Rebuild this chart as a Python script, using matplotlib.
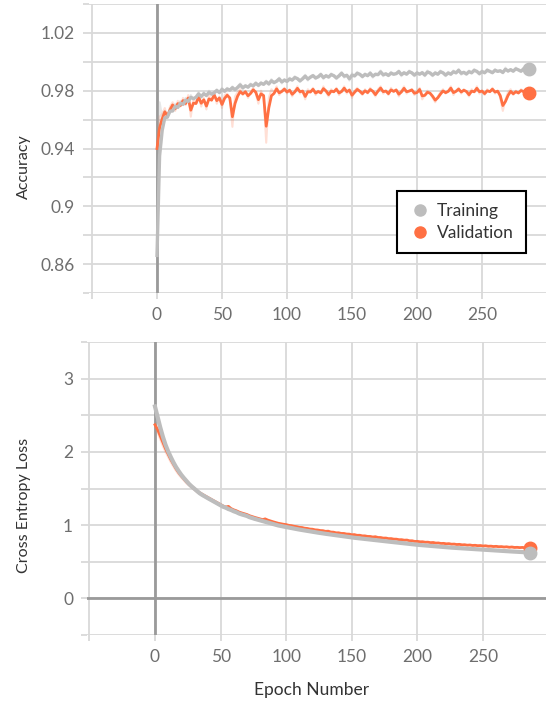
import matplotlib.pyplot as plt
import numpy as np
from matplotlib.lines import Line2D

plt.rcParams['font.family'] = ['Lato', 'DejaVu Sans']

# epochs (logged every 2 epochs)
epochs = np.arange(0, 287, 2)

train_acc = [
    0.866, 0.972, 0.962, 0.966, 0.962, 0.968, 0.966, 0.971, 0.968, 0.973,
    0.970, 0.975, 0.972, 0.977, 0.974, 0.976, 0.979, 0.975, 0.979, 0.976,
    0.980, 0.977, 0.979, 0.981, 0.978, 0.982, 0.979, 0.982, 0.980, 0.983,
    0.980, 0.983, 0.985, 0.981, 0.984, 0.982, 0.985, 0.983, 0.986, 0.983,
    0.986, 0.984, 0.987, 0.984, 0.988, 0.985, 0.987, 0.989, 0.985, 0.988,
    0.986, 0.989, 0.987, 0.990, 0.988, 0.986, 0.989, 0.991, 0.987, 0.990,
    0.991, 0.988, 0.990, 0.992, 0.988, 0.991, 0.989, 0.992, 0.990, 0.988,
    0.991, 0.993, 0.989, 0.991, 0.987, 0.992, 0.990, 0.993, 0.991, 0.989,
    0.992, 0.990, 0.993, 0.989, 0.992, 0.991, 0.994, 0.990, 0.992, 0.990,
    0.993, 0.991, 0.992, 0.994, 0.990, 0.993, 0.991, 0.994, 0.992, 0.990,
    0.993, 0.991, 0.993, 0.990, 0.994, 0.992, 0.990, 0.993, 0.991, 0.994,
    0.992, 0.990, 0.993, 0.991, 0.994, 0.992, 0.995, 0.991, 0.993, 0.991,
    0.994, 0.992, 0.995, 0.993, 0.991, 0.994, 0.992, 0.995, 0.993, 0.992,
    0.995, 0.993, 0.994, 0.992, 0.996, 0.993, 0.995, 0.993, 0.996, 0.994,
    0.993, 0.996, 0.994, 0.995,
]
val_acc = [
    0.940, 0.962, 0.964, 0.968, 0.961, 0.969, 0.972, 0.966, 0.973, 0.969,
    0.975, 0.970, 0.977, 0.962, 0.974, 0.971, 0.978, 0.969, 0.975, 0.967,
    0.977, 0.973, 0.979, 0.971, 0.976, 0.968, 0.977, 0.978, 0.974, 0.955,
    0.976, 0.979, 0.981, 0.977, 0.980, 0.975, 0.979, 0.982, 0.978, 0.971,
    0.980, 0.976, 0.944, 0.975, 0.981, 0.979, 0.983, 0.977, 0.980, 0.982,
    0.978, 0.981, 0.976, 0.980, 0.983, 0.978, 0.980, 0.974, 0.981, 0.979,
    0.982, 0.977, 0.980, 0.978, 0.983, 0.979, 0.976, 0.981, 0.979, 0.982,
    0.977, 0.980, 0.983, 0.978, 0.981, 0.975, 0.980, 0.982, 0.979, 0.977,
    0.981, 0.978, 0.982, 0.979, 0.976, 0.981, 0.983, 0.978, 0.980, 0.977,
    0.982, 0.979, 0.981, 0.976, 0.980, 0.983, 0.978, 0.980, 0.981, 0.977,
    0.979, 0.982, 0.974, 0.977, 0.980, 0.978, 0.975, 0.972, 0.976, 0.979,
    0.981, 0.978, 0.980, 0.983, 0.977, 0.980, 0.982, 0.978, 0.981, 0.979,
    0.976, 0.981, 0.979, 0.983, 0.978, 0.980, 0.977, 0.981, 0.979, 0.982,
    0.978, 0.980, 0.975, 0.966, 0.974, 0.979, 0.981, 0.977, 0.980, 0.978,
    0.981, 0.979, 0.977, 0.979,
]
train_loss = [
    2.62, 2.40, 2.26, 2.14, 2.04, 1.96, 1.89, 1.82, 1.76, 1.71,
    1.66, 1.62, 1.58, 1.54, 1.51, 1.48, 1.45, 1.42, 1.40, 1.38,
    1.36, 1.34, 1.32, 1.30, 1.28, 1.26, 1.24, 1.23, 1.21, 1.20,
    1.18, 1.17, 1.15, 1.14, 1.13, 1.12, 1.10, 1.09, 1.08, 1.07,
    1.06, 1.05, 1.04, 1.03, 1.02, 1.01, 1.00, 0.99, 0.985, 0.977,
    0.970, 0.963, 0.956, 0.949, 0.942, 0.936, 0.930, 0.924, 0.918, 0.912,
    0.906, 0.900, 0.895, 0.889, 0.884, 0.879, 0.874, 0.869, 0.864, 0.859,
    0.854, 0.849, 0.844, 0.839, 0.834, 0.829, 0.825, 0.821, 0.817, 0.813,
    0.809, 0.805, 0.801, 0.797, 0.793, 0.789, 0.785, 0.781, 0.777, 0.773,
    0.769, 0.765, 0.761, 0.757, 0.753, 0.749, 0.745, 0.741, 0.737, 0.733,
    0.730, 0.727, 0.724, 0.721, 0.718, 0.715, 0.712, 0.709, 0.706, 0.703,
    0.700, 0.697, 0.694, 0.691, 0.689, 0.686, 0.684, 0.681, 0.679, 0.676,
    0.674, 0.671, 0.669, 0.667, 0.665, 0.662, 0.660, 0.658, 0.656, 0.654,
    0.651, 0.649, 0.647, 0.645, 0.643, 0.641, 0.639, 0.637, 0.635, 0.633,
    0.631, 0.629, 0.627, 0.625,
]
val_loss = [
    2.37, 2.27, 2.17, 2.08, 2.00, 1.93, 1.86, 1.80, 1.74, 1.69,
    1.65, 1.61, 1.57, 1.54, 1.51, 1.48, 1.45, 1.43, 1.41, 1.39,
    1.37, 1.35, 1.33, 1.31, 1.29, 1.27, 1.25, 1.24, 1.26, 1.21,
    1.20, 1.19, 1.17, 1.16, 1.15, 1.14, 1.12, 1.11, 1.10, 1.09,
    1.08, 1.07, 1.09, 1.06, 1.05, 1.04, 1.03, 1.02, 1.015, 1.008,
    1.004, 0.992, 0.990, 0.980, 0.976, 0.965, 0.966, 0.953, 0.953, 0.942,
    0.943, 0.931, 0.932, 0.922, 0.923, 0.910, 0.919, 0.899, 0.903, 0.890,
    0.895, 0.882, 0.886, 0.874, 0.877, 0.864, 0.871, 0.856, 0.862, 0.849,
    0.853, 0.842, 0.845, 0.834, 0.843, 0.826, 0.830, 0.819, 0.824, 0.811,
    0.816, 0.805, 0.808, 0.797, 0.801, 0.791, 0.797, 0.781, 0.786, 0.773,
    0.779, 0.769, 0.773, 0.763, 0.768, 0.757, 0.764, 0.751, 0.757, 0.746,
    0.752, 0.741, 0.748, 0.736, 0.742, 0.732, 0.739, 0.727, 0.733, 0.723,
    0.730, 0.719, 0.726, 0.716, 0.722, 0.712, 0.719, 0.708, 0.714, 0.705,
    0.712, 0.702, 0.707, 0.699, 0.705, 0.695, 0.703, 0.692, 0.698, 0.691,
    0.697, 0.688, 0.694, 0.690,
]

x_ticks = [-50, 0, 50, 100, 150, 200, 250]
x_ticklabels = ['', '0', '50', '100', '150', '200', '250']
acc_ticks = [0.86, 0.90, 0.94, 0.98, 1.02]
acc_ticklabels = ['0.86', '0.9', '0.94', '0.98', '1.02']
acc_minor = [0.84, 0.88, 0.92, 0.96, 1.00, 1.04]
loss_ticks = [0, 1, 2, 3]
loss_ticklabels = ['0', '1', '2', '3']
loss_minor = [-0.5, 0.5, 1.5, 2.5, 3.5]

GRAY = '#bdbdbd'
ORANGE = '#ff7043'
GRID = '#d9d9d9'
ZERO = '#9a9a9a'


# exponential smoothing, as in the training dashboard
def smooth(vals, w=0.35):
    out = []
    last = vals[0]
    for v in vals:
        last = w * last + (1 - w) * v
        out.append(last)
    return out


fig = plt.figure(figsize=(5.46, 7.02), dpi=100)
ax1 = fig.add_axes([89 / 546, 1 - 293 / 702, 457 / 546, 289 / 702])
ax2 = fig.add_axes([87 / 546, 1 - 635 / 702, 459 / 546, 293 / 702])


def style(ax, xlim, ylim, yt, ytl, ymin):
    ax.set_xlim(*xlim)
    ax.set_ylim(*ylim)
    ax.set_xticks(x_ticks)
    ax.set_xticklabels(x_ticklabels)
    ax.set_yticks(yt)
    ax.set_yticklabels(ytl)
    ax.set_yticks(ymin, minor=True)
    for s in ax.spines.values():
        s.set_visible(False)
    ax.grid(True, which='both', color=GRID, linewidth=1.3, zorder=0)
    ax.tick_params(which='both', length=4, width=1.3, color=GRID,
                   labelcolor='#6e6e6e', labelsize=12.5, pad=6)
    ax.set_axisbelow(True)


style(ax1, (-52.3, 299.2), (0.84, 1.04), acc_ticks, acc_ticklabels, acc_minor)
style(ax2, (-51.8, 298), (-0.5, 3.5), loss_ticks, loss_ticklabels, loss_minor)

ax1.axvline(0, color=ZERO, lw=2, zorder=1)
ax2.axvline(0, color=ZERO, lw=2, zorder=1)
ax2.axhline(0, color=ZERO, lw=2, zorder=1)

for ax, tr, va, lw_t in [(ax1, train_acc, val_acc, 2.4), (ax2, train_loss, val_loss, 3.0)]:
    ax.plot(epochs, va, color=ORANGE, alpha=0.22, lw=1.5, zorder=2)
    ax.plot(epochs, tr, color=GRAY, alpha=0.35, lw=1.5, zorder=2)
    vs = smooth(va)
    ts = smooth(tr)
    ax.plot(epochs, vs, color=ORANGE, lw=2.0, zorder=3)
    ax.plot(epochs, ts, color=GRAY, lw=lw_t, zorder=4)
    ax.plot(epochs[-1], vs[-1], 'o', color=ORANGE, ms=9, zorder=5)
    ax.plot(epochs[-1], ts[-1], 'o', color=GRAY, ms=9, zorder=6)

handles = [
    Line2D([], [], marker='o', color=GRAY, lw=0, ms=8, label='Training'),
    Line2D([], [], marker='o', color=ORANGE, lw=0, ms=8, label='Validation'),
]
leg = ax1.legend(handles=handles, loc='upper left', bbox_to_anchor=(0.674, 0.353),
                 borderaxespad=0, frameon=True, fancybox=False, framealpha=1,
                 edgecolor='black', fontsize=12.5, handletextpad=0.3,
                 handlelength=1.3, borderpad=0.7, labelspacing=0.35)
leg.get_frame().set_linewidth(1.5)
for t in leg.get_texts():
    t.set_color('#333333')

fig.text(24 / 546, 1 - 167 / 702, 'Accuracy', rotation=90, ha='center', va='center',
         fontsize=11.5, color='#333333')
fig.text(24 / 546, 1 - 505 / 702, 'Cross Entropy Loss', rotation=90, ha='center',
         va='center', fontsize=11.5, color='#333333')
fig.text(312 / 546, 1 - 690 / 702, 'Epoch Number', ha='center', va='center',
         fontsize=12.5, color='#333333')

fig.savefig('out.png', dpi=100)
